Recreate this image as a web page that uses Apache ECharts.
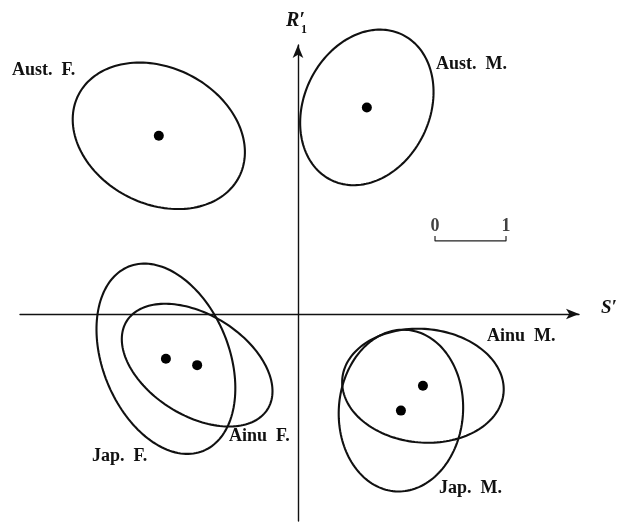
<!DOCTYPE html>
<html>
<head>
<meta charset="utf-8">
<style>
  html, body { margin: 0; padding: 0; background: #fff; }
  #chart { width: 623px; height: 524px; }
</style>
<script src="https://cdn.jsdelivr.net/npm/echarts@6/dist/echarts.min.js"></script>
</head>
<body>
<div id="chart"></div>
<script>
// Group means on the two canonical axes (S', R'1) with their dispersion ellipses
const groups    = ['Aust. F.', 'Aust. M.', 'Jap. F.', 'Ainu F.', 'Ainu M.', 'Jap. M.'];
const centerS   = [-1.96, 0.97, -1.86, -1.42, 1.76, 1.45];
const centerR   = [2.51, 2.91, -0.63, -0.72, -1.01, -1.36];
const semiMajor = [1.27, 1.14, 1.40, 1.17, 1.14, 1.14];
const semiMinor = [0.96, 0.885, 0.89, 0.71, 0.80, 0.875];
const tiltDeg   = [-27, 64, -68, -32, -5, 86];

// Scale bar: one unit along S'
const scaleTicks = [0, 1];
const scaleStart = [1.93, 1.03];

const FONT = "'Liberation Serif', 'Times New Roman', serif";

const ellipseData = groups.map((g, i) => [centerS[i], centerR[i], semiMajor[i], semiMinor[i], tiltDeg[i]]);
const meanData = groups.map((g, i) => [centerS[i], centerR[i]]);
const scaleBar = [
  [scaleStart[0] + scaleTicks[0], scaleStart[1] + 0.07],
  [scaleStart[0] + scaleTicks[0], scaleStart[1]],
  [scaleStart[0] + scaleTicks[1], scaleStart[1]],
  [scaleStart[0] + scaleTicks[1], scaleStart[1] + 0.07]
];
const scaleLabels = scaleTicks.map(t => [scaleStart[0] + t, scaleStart[1], String(t)]);

function renderEllipse(params, api) {
  const cx = api.value(0), cy = api.value(1);
  const a = api.value(2), b = api.value(3);
  const t = api.value(4) * Math.PI / 180;
  const pts = [];
  const n = 160;
  for (let k = 0; k < n; k++) {
    const u = 2 * Math.PI * k / n;
    const ex = a * Math.cos(u), ey = b * Math.sin(u);
    pts.push(api.coord([cx + ex * Math.cos(t) - ey * Math.sin(t),
                        cy + ex * Math.sin(t) + ey * Math.cos(t)]));
  }
  return {
    type: 'polygon',
    shape: { points: pts },
    style: { fill: 'none', stroke: '#111', lineWidth: 2.1 }
  };
}

// label placement (left edge, vertical middle) for each group name
const labelPos = {
  'Aust. F.': [12, 72],
  'Aust. M.': [436, 66],
  'Jap. F.':  [92, 458],
  'Ainu F.':  [229, 438],
  'Ainu M.':  [487, 338],
  'Jap. M.':  [439, 490]
};

const chart = echarts.init(document.getElementById('chart'), null, { renderer: 'canvas' });

const axisCommon = {
  type: 'value',
  axisLine: {
    show: true,
    onZero: true,
    symbol: ['none', 'arrow'],
    symbolSize: [8, 13],
    lineStyle: { color: '#111', width: 1.4 }
  },
  axisTick: { show: false },
  axisLabel: { show: false },
  splitLine: { show: false }
};

chart.setOption({
  animation: false,
  backgroundColor: '#ffffff',
  grid: { left: 20, right: 44, top: 45, bottom: 3 },
  xAxis: Object.assign({}, axisCommon, { min: -3.915, max: 3.958 }),
  yAxis: Object.assign({}, axisCommon, { min: -2.915, max: 3.789 }),
  series: [
    {
      type: 'custom',
      renderItem: renderEllipse,
      data: ellipseData,
      encode: { x: 0, y: 1 },
      clip: false,
      silent: true
    },
    {
      type: 'scatter',
      data: meanData,
      symbol: 'circle',
      symbolSize: 10,
      itemStyle: { color: '#000', opacity: 1 },
      silent: true
    },
    {
      type: 'line',
      data: scaleBar,
      symbol: 'none',
      lineStyle: { color: '#222', width: 1.2 },
      silent: true
    },
    {
      type: 'scatter',
      data: scaleLabels,
      symbolSize: 0,
      label: {
        show: true,
        position: 'top',
        distance: 6,
        formatter: p => p.value[2],
        fontFamily: FONT,
        fontWeight: 'bold',
        fontSize: 18,
        color: '#111'
      },
      silent: true
    }
  ],
  graphic: groups.map(g => ({
    type: 'text',
    left: labelPos[g][0],
    top: labelPos[g][1] - 11,
    style: {
      text: g.replace(' ', '  '),
      font: 'bold 18px ' + FONT,
      fill: '#111'
    }
  })).concat([
    {
      type: 'text',
      left: 601,
      top: 299,
      style: { text: 'S\u2032', font: 'italic bold 19px ' + FONT, fill: '#111' }
    },
    {
      type: 'text',
      left: 286,
      top: 11,
      style: { text: 'R\u2032', font: 'italic bold 20px ' + FONT, fill: '#111' }
    },
    {
      type: 'text',
      left: 301,
      top: 24,
      style: { text: '1', font: 'bold 12px ' + FONT, fill: '#111' }
    }
  ])
});
</script>
</body>
</html>
